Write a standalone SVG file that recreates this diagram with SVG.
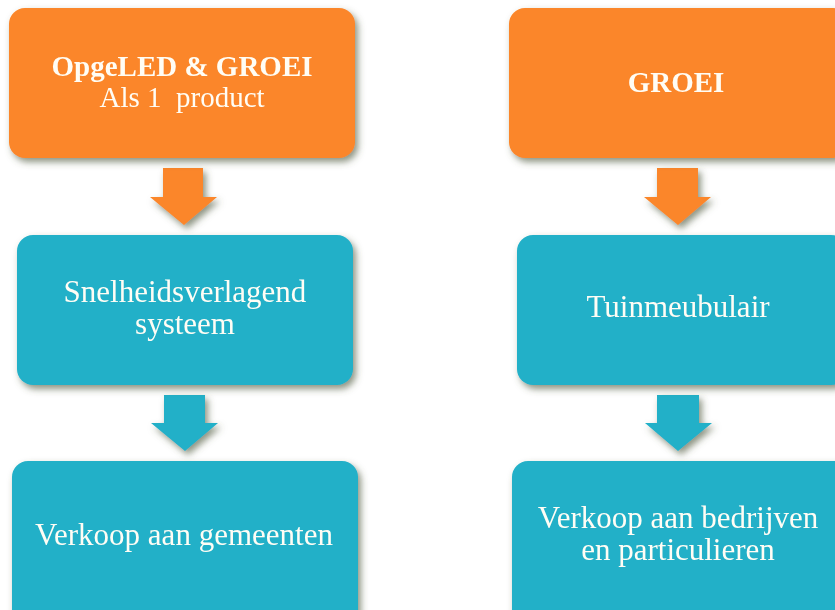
<svg xmlns="http://www.w3.org/2000/svg" width="835" height="610" viewBox="0 0 835 610">
<defs>
<filter id="sh" x="-10%" y="-10%" width="125%" height="130%">
<feDropShadow dx="3" dy="4" stdDeviation="3.5" flood-color="#4f5a3c" flood-opacity="0.65"/>
</filter>
<style>
.or{fill:#FB8629;}
.cy{fill:#21B0C8;}
.t{font-family:"Liberation Serif","Times New Roman",serif;fill:#FFFDF5;text-anchor:middle;font-size:31px;white-space:pre;}
.b{font-weight:bold;font-size:29px;}
</style>
</defs>
<rect width="835" height="610" fill="#FFFFFF"/>
<g id="connectors" filter="url(#sh)">
<polygon class="or" points="163,168 203,168 203,197 217,197 184,225 150,197 163,197"/>
<polygon class="or" points="657,168 698,168 698,197 711,197 678,225 644,197 657,197"/>
<polygon class="cy" points="164,395 205,395 205,423 218,423 185,451 151,423 164,423"/>
<polygon class="cy" points="657,395 699,395 699,423 712,423 678,451 645,423 657,423"/>
</g>
<g id="node-opgeled" filter="url(#sh)">
<rect class="or" x="9" y="8" width="346" height="150" rx="16"/>
<text class="t b" x="182" y="76">OpgeLED &amp; GROEI</text>
<text class="t" x="182" y="107" style="font-size:29px" xml:space="preserve">Als 1  product</text>
</g>
<g id="node-groei" filter="url(#sh)">
<rect class="or" x="509" y="8" width="340" height="150" rx="16"/>
<text class="t b" x="676" y="92">GROEI</text>
</g>
<g id="node-snelheid" filter="url(#sh)">
<rect class="cy" x="17" y="235" width="336" height="150" rx="16"/>
<text class="t" x="185" y="302">Snelheidsverlagend</text>
<text class="t" x="185" y="334">systeem</text>
</g>
<g id="node-tuin" filter="url(#sh)">
<rect class="cy" x="517" y="235" width="330" height="150" rx="16"/>
<text class="t" x="678" y="317">Tuinmeubulair</text>
</g>
<g id="node-gemeenten" filter="url(#sh)">
<rect class="cy" x="12" y="461" width="346" height="170" rx="16"/>
<text class="t" x="184" y="545">Verkoop aan gemeenten</text>
</g>
<g id="node-bedrijven" filter="url(#sh)">
<rect class="cy" x="512" y="461" width="340" height="170" rx="16"/>
<text class="t" x="678" y="528">Verkoop aan bedrijven</text>
<text class="t" x="678" y="560">en particulieren</text>
</g>
</svg>
